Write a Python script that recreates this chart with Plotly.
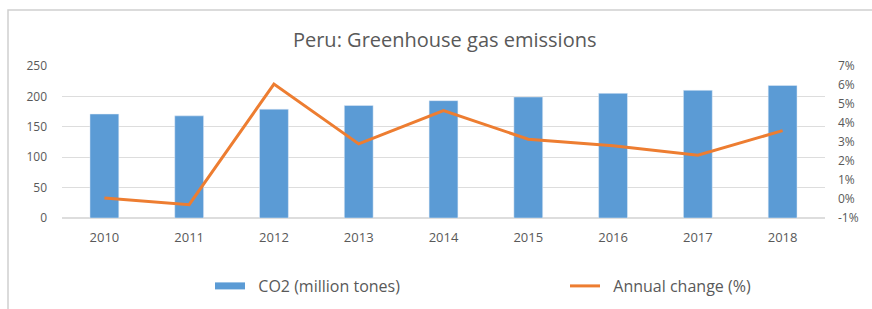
import plotly.graph_objects as go

years = ["2010", "2011", "2012", "2013", "2014", "2015", "2016", "2017", "2018"]
co2 = [171, 168, 179, 185, 193, 199, 205, 210, 218]
annual_change = [0.05, -0.3, 6.05, 2.9, 4.65, 3.15, 2.8, 2.3, 3.6]
left_ticks = [0, 50, 100, 150, 200, 250]
right_ticks = [-1, 0, 1, 2, 3, 4, 5, 6, 7]
right_tick_labels = [f"{v}%" for v in right_ticks]
series_names = ["CO2 (million tones)", "Annual change (%)"]

BLUE = "#5B9BD5"
ORANGE = "#ED7D31"
GREY = "#595959"
FONT = "Open Sans"
PAD = "\u00a0\u00a0"

W, H = 872, 309
ML, MR, MT, MB = 62, 47, 66, 91
PW = W - ML - MR
PH = H - MT - MB

fig = go.Figure()
fig.add_trace(go.Bar(x=years, y=co2, marker_color=BLUE, width=0.34,
                     name=series_names[0], showlegend=False, yaxis="y"))
fig.add_trace(go.Scatter(x=years, y=annual_change, mode="lines",
                         line=dict(color=ORANGE, width=3), name=series_names[1],
                         showlegend=False, yaxis="y2"))
# legend proxies (Excel-style wide swatches)
fig.add_trace(go.Scatter(x=[None], y=[None], mode="lines",
                         line=dict(color=BLUE, width=7), name=PAD + series_names[0],
                         legend="legend"))
fig.add_trace(go.Scatter(x=[None], y=[None], mode="lines",
                         line=dict(color=ORANGE, width=3), name=PAD + series_names[1],
                         legend="legend2"))

leg_common = dict(orientation="h", yref="container", yanchor="middle", y=1 - 286 / H,
                  xref="container", xanchor="left",
                  font=dict(size=16, color=GREY, family=FONT), itemwidth=30,
                  bgcolor="rgba(0,0,0,0)")

fig.update_layout(
    width=W, height=H,
    margin=dict(l=ML, r=MR, t=MT, b=MB, autoexpand=False),
    paper_bgcolor="white", plot_bgcolor="white",
    font=dict(family=FONT, color=GREY, size=13),
    title=dict(text="Peru: Greenhouse gas emissions", x=0.51, xanchor="center",
               y=1 - 40 / H, yanchor="middle",
               font=dict(size=20, color=GREY, family=FONT)),
    xaxis=dict(showgrid=False, showline=False, ticks="", tickfont=dict(size=13),
               range=[-0.5, 8.5], ticklabelstandoff=10),
    yaxis=dict(range=[0, 250], tickvals=left_ticks, showgrid=True,
               gridcolor="#DDDDDD", gridwidth=1, zeroline=True, zerolinecolor="#DDDDDD",
               showline=False, ticks="", ticklabelstandoff=14, tickfont=dict(size=12)),
    yaxis2=dict(range=[-1, 7], tickvals=right_ticks, ticktext=right_tick_labels,
                overlaying="y", side="right", showgrid=False, zeroline=False,
                showline=False, ticks="", ticklabelstandoff=12, tickfont=dict(size=12)),
    legend=dict(x=210 / W, **leg_common),
    legend2=dict(x=565 / W, **leg_common),
    shapes=[dict(type="rect", xref="paper", yref="paper",
                 x0=(8 - ML) / PW, x1=(880 - ML) / PW,
                 y0=-(320 - (H - MB)) / PH, y1=1 + (MT - 10) / PH,
                 line=dict(color="#D0D0D0", width=1.5), layer="below")],
)

fig.write_html("out.html", config={"displayModeBar": False},
               post_script="document.body.style.margin='0';document.body.style.padding='0';")
